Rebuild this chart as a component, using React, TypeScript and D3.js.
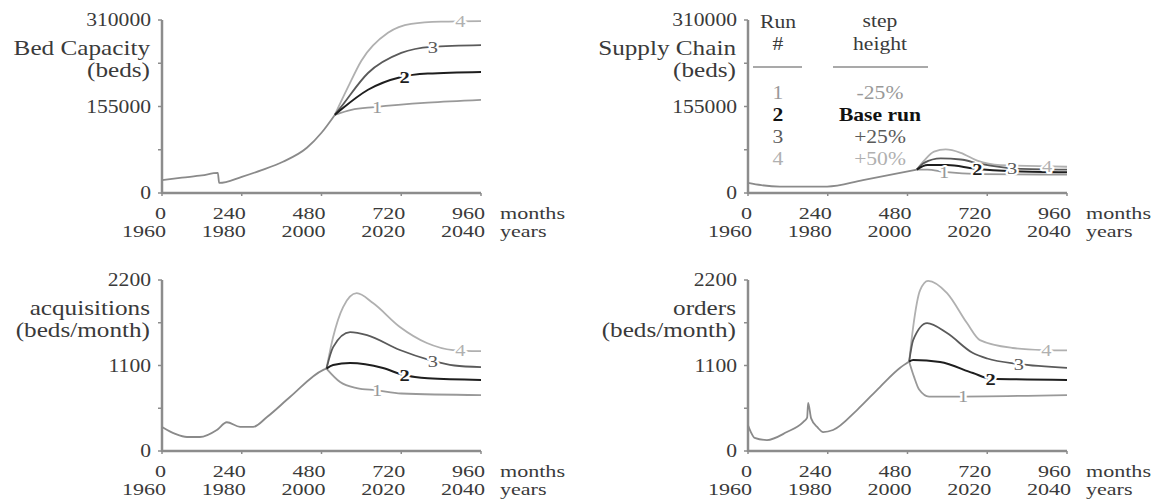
import React from 'react';
import * as d3 from 'd3';

type Pt = [number, number];

// ---------- data ----------
const monthTicks = [0, 240, 480, 720, 960];
const yearTicks = ['1960', '1980', '2000', '2020', '2040'];
const runIds = ['1', '2', '3', '4'];
const stepHeights = ['-25%', 'Base run', '+25%', '+50%'];

const bedMax = 310000;
const bedTicks = [0, 155000, 310000];
const bedBase: Pt[] = [[0, 23000], [60, 27500], [120, 31500], [168, 36000], [172, 18000], [240, 29000], [300, 41000], [364, 56000], [436, 81000], [480, 108000], [520, 140000]];
const bed1: Pt[] = [[520, 140000], [570, 149000], [640, 154000], [800, 162000], [960, 167000]];
const bed2: Pt[] = [[520, 140000], [540, 150000], [620, 185000], [720, 208000], [800, 214000], [960, 217000]];
const bed3: Pt[] = [[520, 140000], [540, 155000], [620, 215000], [720, 251000], [810, 262000], [960, 265000]];
const bed4: Pt[] = [[520, 140000], [560, 190000], [600, 237000], [680, 287000], [750, 303000], [840, 307000], [960, 308000]];

const supMax = 310000;
const supTicks = [0, 155000, 310000];
const supBase: Pt[] = [[0, 18000], [40, 14000], [96, 11500], [238, 11500], [346, 23000], [450, 35000], [508, 42000]];
const sup1: Pt[] = [[508, 42000], [540, 42000], [590, 38000], [700, 34000], [960, 33000]];
const sup2: Pt[] = [[508, 42000], [540, 50000], [600, 50000], [680, 44000], [800, 39000], [960, 37000]];
const sup3: Pt[] = [[508, 42000], [530, 54000], [580, 62000], [640, 60000], [700, 52000], [800, 44000], [960, 42000]];
const sup4: Pt[] = [[508, 42000], [530, 58000], [560, 74000], [595, 78000], [640, 72000], [690, 58000], [760, 50000], [960, 47000]];

const acqMax = 2200;
const acqTicks = [0, 1100, 2200];
const acqBase: Pt[] = [[0, 310], [40, 220], [75, 180], [114, 180], [165, 270], [195, 370], [235, 310], [274, 310], [316, 437], [385, 694], [484, 1041], [495, 1060]];
const acq1: Pt[] = [[495, 1060], [536, 887], [586, 810], [647, 780], [720, 740], [960, 720]];
const acq2: Pt[] = [[495, 1060], [515, 1106], [566, 1132], [665, 1067], [728, 977], [800, 935], [960, 915]];
const acq3: Pt[] = [[495, 1060], [515, 1337], [566, 1530], [617, 1492], [716, 1299], [806, 1170], [880, 1100], [960, 1080]];
const acq4: Pt[] = [[495, 1060], [515, 1466], [545, 1852], [586, 2030], [635, 1903], [716, 1595], [797, 1389], [876, 1299], [960, 1285]];

const ordMax = 2200;
const ordTicks = [0, 1100, 2200];
const ordBase: Pt[] = [[0, 330], [8, 250], [20, 170], [57, 141], [117, 244], [166, 373], [178, 430], [181, 620], [190, 420], [210, 300], [226, 244], [256, 270], [328, 527], [397, 823], [457, 1067], [485, 1150]];
const ord1: Pt[] = [[485, 1150], [500, 950], [515, 790], [545, 700], [600, 700], [960, 720]];
const ord2: Pt[] = [[485, 1150], [497, 1170], [578, 1144], [677, 1003], [730, 930], [960, 915]];
const ord3: Pt[] = [[485, 1150], [497, 1427], [539, 1646], [599, 1517], [677, 1260], [720, 1190], [812, 1120], [960, 1070]];
const ord4: Pt[] = [[485, 1150], [497, 1595], [518, 2071], [542, 2190], [599, 2032], [659, 1646], [698, 1427], [797, 1325], [888, 1299], [960, 1295]];

const labelT1 = [647, 730, 815, 898];
const labelT2 = [590, 690, 795, 900];

// ---------- style ----------
const SX = 1.2;
const FONT = "'Liberation Serif', 'DejaVu Serif', 'Times New Roman', Times, serif";
const AXIS = '#8c8c8c';
const TXT = '#3a3a3a';
const BASE_C = '#8a8a8a';
const RUN_C = ['#999999', '#1e1e1e', '#5a5a5a', '#b0b0b0'];

interface PanelDef {
  x0: number; y0: number; yTop: number; max: number; ticks: number[];
  title: string[]; base: Pt[]; runs: Pt[][]; labelT: number[];
}

const panels: PanelDef[] = [
  { x0: 162, y0: 193, yTop: 20, max: bedMax, ticks: bedTicks, title: ['Bed Capacity', '(beds)'], base: bedBase, runs: [bed1, bed2, bed3, bed4], labelT: labelT1 },
  { x0: 748, y0: 193, yTop: 20, max: supMax, ticks: supTicks, title: ['Supply Chain', '(beds)'], base: supBase, runs: [sup1, sup2, sup3, sup4], labelT: labelT2 },
  { x0: 162, y0: 451, yTop: 280, max: acqMax, ticks: acqTicks, title: ['acquisitions', '(beds/month)'], base: acqBase, runs: [acq1, acq2, acq3, acq4], labelT: labelT1 },
  { x0: 748, y0: 451, yTop: 280, max: ordMax, ticks: ordTicks, title: ['orders', '(beds/month)'], base: ordBase, runs: [ord1, ord2, ord3, ord4], labelT: labelT1 },
];

function T(props: { x: number; y: number; anchor?: string; size?: number; sx?: number; fill?: string; weight?: string; halo?: boolean; lines?: string[]; gap?: number; children?: React.ReactNode }) {
  const { x, y, anchor = 'start', size = 18, sx = SX, fill = TXT, weight = 'normal', halo, lines, gap = 16 } = props;
  return (
    <text
      transform={`translate(${x},${y}) scale(${sx},1)`}
      textAnchor={anchor}
      style={{ fontFamily: FONT, fontSize: size + 'px', fontWeight: weight as any }}
      fill={fill}
      stroke={halo ? '#fff' : undefined}
      strokeWidth={halo ? 4 : undefined}
      paintOrder={halo ? 'stroke' : undefined}
      strokeLinejoin="round"
    >
      {lines
        ? lines.map((s, i) => <tspan key={i} x={0} dy={i === 0 ? 0 : gap}>{s}</tspan>)
        : props.children}
    </text>
  );
}

function valueAt(pts: Pt[], t: number): number {
  for (let i = 1; i < pts.length; i++) {
    if (t <= pts[i][0]) {
      const [a, va] = pts[i - 1];
      const [b, vb] = pts[i];
      return va + (vb - va) * (t - a) / (b - a);
    }
  }
  return pts[pts.length - 1][1];
}

function Panel({ p }: { p: PanelDef }) {
  const x = d3.scaleLinear().domain([0, 960]).range([p.x0, p.x0 + 319]);
  const y = d3.scaleLinear().domain([0, p.max]).range([p.y0, p.yTop]);
  const line = d3.line<Pt>().x(d => x(d[0])).y(d => y(d[1])).curve(d3.curveMonotoneX);
  const minorTicks = d3.range(0, 5).map(i => (p.max * i) / 4);
  const order = [3, 2, 0, 1];
  return (
    <g>
      {/* axes */}
      <line x1={x(0)} x2={x(960)} y1={y(0)} y2={y(0)} stroke={AXIS} strokeWidth={2.5} />
      <line x1={x(0)} x2={x(0)} y1={y(0) + 1} y2={y(p.max)} stroke={AXIS} strokeWidth={2.5} />
      {minorTicks.map((v, i) => (
        <line key={'yt' + i} x1={x(0) - 4} x2={x(0)} y1={y(v)} y2={y(v)} stroke={AXIS} strokeWidth={1.5} />
      ))}
      {monthTicks.map((m, i) => (
        <line key={'xt' + i} x1={x(m)} x2={x(m)} y1={y(0)} y2={y(0) + 3} stroke={AXIS} strokeWidth={1.5} />
      ))}
      {/* y tick labels */}
      {p.ticks.map((v, i) => (
        <T key={'yl' + i} x={x(0) - 11} y={y(v) + 6} anchor="end">{String(v)}</T>
      ))}
      {/* title */}
      <T x={x(0) - 12} y={p.yTop + 35} anchor="end" size={21} lines={p.title} gap={22} />
      {/* x tick labels */}
      {monthTicks.map((m, i) => (
        <g key={'xl' + i}>
          <T x={x(m) + 4} y={y(0) + 26} anchor="end" size={16} sx={1.38}>{String(m)}</T>
          <T x={x(m) + 4} y={y(0) + 44} anchor="end" size={16} sx={1.38}>{yearTicks[i]}</T>
        </g>
      ))}
      <T x={x(960) + 19} y={y(0) + 26} size={16} sx={1.38}>months</T>
      <T x={x(960) + 19} y={y(0) + 44} size={16} sx={1.38}>years</T>
      {/* curves */}
      <path d={line(p.base) || ''} fill="none" stroke={BASE_C} strokeWidth={1.8} />
      {order.map(k => (
        <path key={'r' + k} d={line(p.runs[k]) || ''} fill="none" stroke={RUN_C[k]} strokeWidth={k === 1 ? 2 : 1.8} />
      ))}
      {order.map(k => (
        <T key={'lab' + k} x={x(p.labelT[k])} y={y(valueAt(p.runs[k], p.labelT[k])) + 6} anchor="middle" size={17}
          fill={RUN_C[k]} weight={k === 1 ? 'bold' : 'normal'} halo>{runIds[k]}</T>
      ))}
    </g>
  );
}

function Legend() {
  const cx1 = 778;
  const cx2 = 880;
  const rowsY = [99, 121, 143, 165];
  return (
    <g>
      <T x={cx1} y={28} anchor="middle" lines={['Run', '#']} gap={22} />
      <T x={cx2} y={27} anchor="middle" lines={['step', 'height']} gap={23} />
      <line x1={753} x2={802} y1={67} y2={67} stroke={AXIS} strokeWidth={1.5} />
      <line x1={833} x2={928} y1={67} y2={67} stroke={AXIS} strokeWidth={1.5} />
      {runIds.map((r, i) => (
        <g key={'lg' + i}>
          <T x={cx1} y={rowsY[i]} anchor="middle" fill={i === 1 ? '#111' : RUN_C[i]} weight={i === 1 ? 'bold' : 'normal'}>{r}</T>
          <T x={cx2} y={rowsY[i]} anchor="middle" fill={i === 1 ? '#111' : RUN_C[i]} weight={i === 1 ? 'bold' : 'normal'}>{stepHeights[i]}</T>
        </g>
      ))}
    </g>
  );
}

export default function App() {
  return (
    <svg width={1158} height={504} style={{ position: 'absolute', left: 0, top: 0, background: '#fff' }}>
      <rect width={1158} height={504} fill="#fff" />
      {panels.map((p, i) => <Panel key={i} p={p} />)}
      <Legend />
    </svg>
  );
}
